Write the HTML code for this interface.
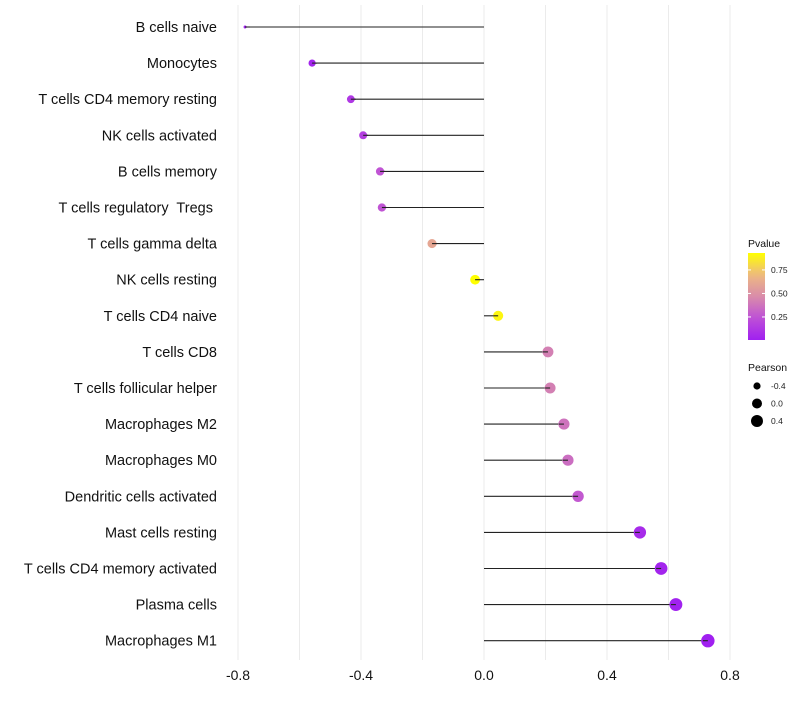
<!DOCTYPE html>
<html><head><meta charset="utf-8"><style>
body{margin:0;background:#fff;font-family:"Liberation Sans",sans-serif}
text{white-space:pre}
</style></head><body>
<svg id="chart" width="800" height="700" xmlns="http://www.w3.org/2000/svg" font-family="Liberation Sans, sans-serif"></svg>
<script>
const categories=["B cells naive","Monocytes","T cells CD4 memory resting","NK cells activated","B cells memory","T cells regulatory  Tregs ","T cells gamma delta","NK cells resting","T cells CD4 naive","T cells CD8","T cells follicular helper","Macrophages M2","Macrophages M0","Dendritic cells activated","Mast cells resting","T cells CD4 memory activated","Plasma cells","Macrophages M1"];
const pearson=[-0.777,-0.559,-0.433,-0.393,-0.338,-0.332,-0.169,-0.029,0.046,0.208,0.215,0.26,0.273,0.306,0.507,0.576,0.624,0.728];
const pvalue=[0.005,0.03,0.12,0.15,0.25,0.25,0.6,0.93,0.9,0.42,0.42,0.37,0.35,0.27,0.06,0.03,0.015,0.005];
const xTicks=[-0.8,-0.4,0,0.4,0.8];
const xTickLabels=["-0.8","-0.4","0.0","0.4","0.8"];
const legendP=[0.25,0.5,0.75];
const legendS=[-0.4,0,0.4];

const svg=document.getElementById('chart');
const NS="http://www.w3.org/2000/svg";
function mk(t,a,p){const e=document.createElementNS(NS,t);for(const k in a)e.setAttribute(k,a[k]);(p||svg).appendChild(e);return e;}
const x=v=>484+v*307.5;
const y=i=>27+i*36.1;
const pMin=0.005,pMax=0.93;
const stops=[[0,[160,32,240]],[0.25,[190,80,215]],[0.5,[217,140,170]],[0.75,[238,185,130]],[1,[255,255,0]]];
function col(p){let t=(p-pMin)/(pMax-pMin);t=Math.max(0,Math.min(1,t));for(let i=1;i<stops.length;i++){if(t<=stops[i][0]){const a=stops[i-1],b=stops[i];const f=(t-a[0])/(b[0]-a[0]);const c=a[1].map((v,j)=>Math.round(v+(b[1][j]-v)*f));return `rgb(${c})`;}}return 'rgb(255,255,0)';}
const sMin=Math.min(...pearson),sMax=Math.max(...pearson);
function rad(v){if(v<=sMin+0.01)return 1.5;return 3.6+(v+0.56)/(sMax+0.56)*3.1;}

for(let g=-0.8;g<=0.81;g+=0.2){const l=mk('line',{x1:x(g),x2:x(g),y1:5,y2:660,stroke:'#ebebeb','stroke-width':1});

}
xTicks.forEach((t,i)=>{const e=mk('text',{x:x(t),y:680,'text-anchor':'middle','font-size':14,fill:'#111'});e.textContent=xTickLabels[i];

});
categories.forEach((c,i)=>{
const t=mk('text',{x:217,y:y(i)+5,'text-anchor':'end','font-size':14.5,fill:'#111'});t.textContent=c;


const l=mk('line',{x1:x(0),x2:x(pearson[i]),y1:y(i),y2:y(i),stroke:'#222','stroke-width':1.1});


const d=mk('circle',{cx:x(pearson[i]),cy:y(i),r:rad(pearson[i]),fill:col(pvalue[i])});


const l2=mk('line',{x1:x(pearson[i]),x2:x(pearson[i])+(pearson[i]<0?5:-5),y1:y(i),y2:y(i),stroke:'#222','stroke-width':1.1});


});
const defs=mk('defs',{});const lg=mk('linearGradient',{id:'pg',x1:0,y1:1,x2:0,y2:0},defs);
for(let k=0;k<=10;k++){mk('stop',{offset:k/10,'stop-color':col(pMin+(pMax-pMin)*k/10)},lg);}
const lt=mk('text',{x:748,y:247,'font-size':10.5,fill:'#111'});lt.textContent='Pvalue';


const py=p=>340-(p-pMin)/(pMax-pMin)*87;
const bar=mk('rect',{x:748,y:253,width:17,height:87,fill:'url(#pg)'});


legendP.forEach(p=>{mk('line',{x1:748,x2:751,y1:py(p),y2:py(p),stroke:'#fff'});mk('line',{x1:762,x2:765,y1:py(p),y2:py(p),stroke:'#fff'});
const t=mk('text',{x:771,y:py(p)+3,'font-size':8.5,fill:'#222'});t.textContent=p.toFixed(2);

});
const st=mk('text',{x:748,y:371,'font-size':10.5,fill:'#111'});st.textContent='Pearson';


const legR=[3.6,5,6];
legendS.forEach((s,i)=>{const cy=386+i*17.5;
const c=mk('circle',{cx:757,cy:cy,r:legR[i],fill:'#000'});


const t=mk('text',{x:771,y:cy+3,'font-size':8.5,fill:'#222'});t.textContent=s===0?'0.0':String(s);

});
</script>
</body></html>
